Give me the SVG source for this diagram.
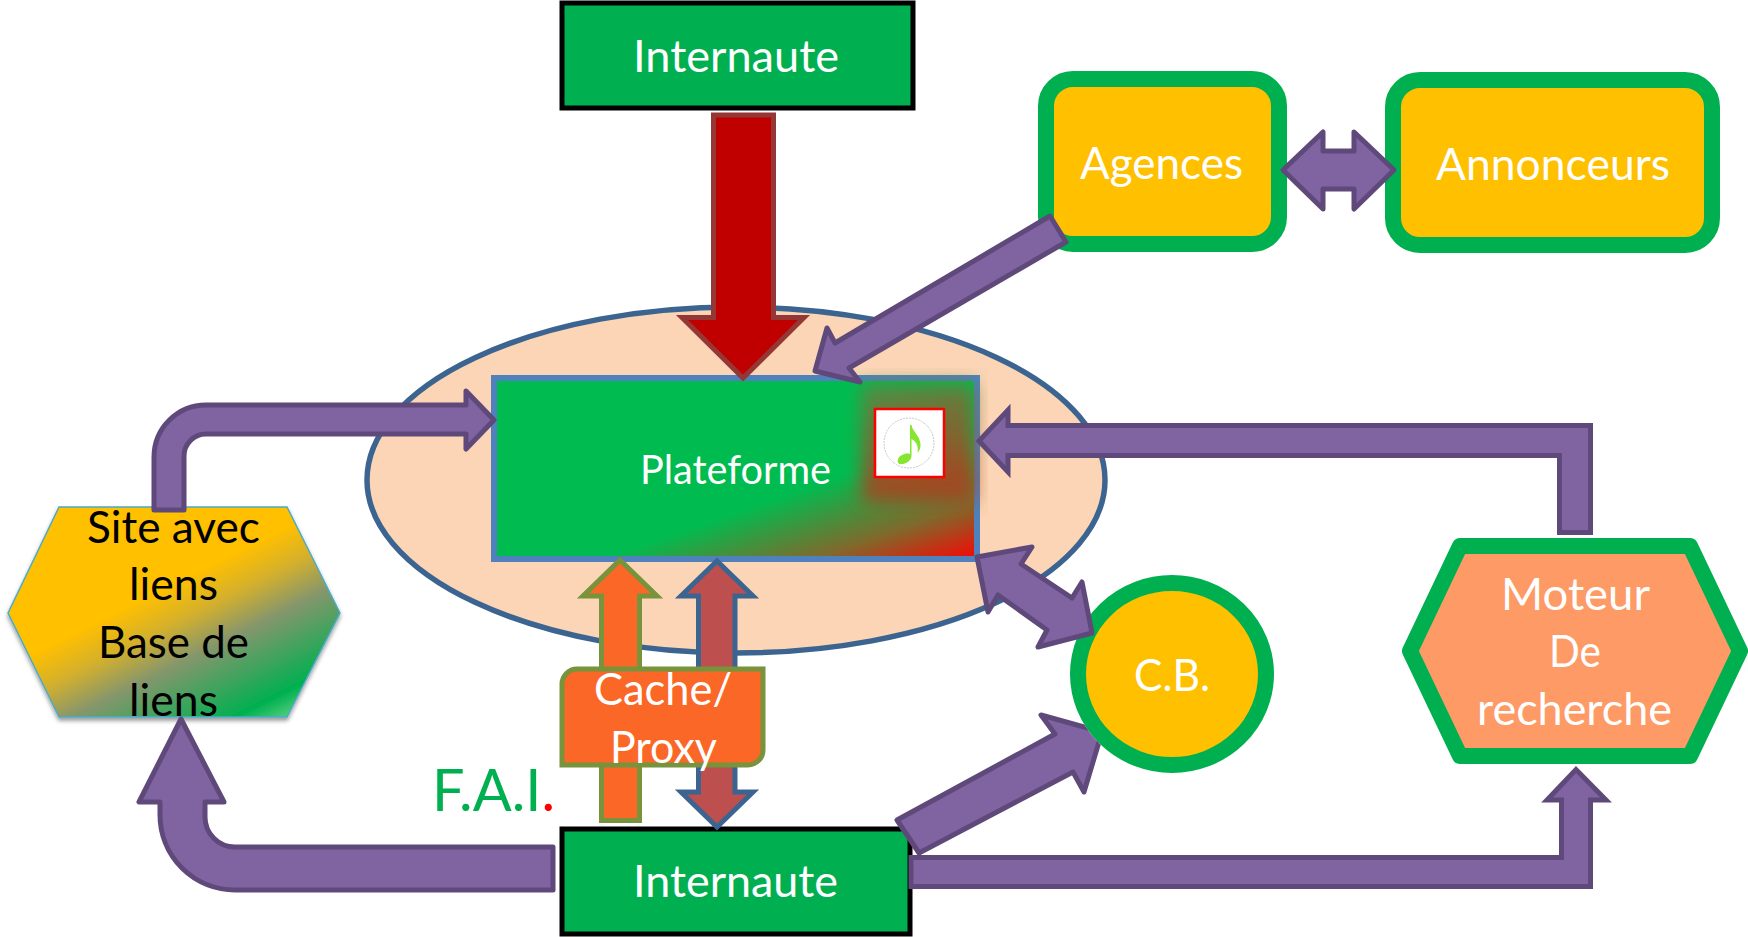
<svg xmlns="http://www.w3.org/2000/svg" width="1748" height="937" viewBox="0 0 1748 937">
<style>
text{font-family:Lato,"Liberation Sans",sans-serif;font-size:44px;fill:#fff}
.dark{fill:#000}
.conn{fill:#8064a2;stroke:#5f497a;stroke-width:5;stroke-linejoin:round}
.sq{stroke-linejoin:miter}
.ring{fill:#ffc000;stroke:#00b050;stroke-width:16}
.inet{fill:#00b050;stroke:#000;stroke-width:5}
</style>
<defs>
<linearGradient id="platGrad" gradientUnits="userSpaceOnUse" x1="968" y1="432" x2="1009" y2="551"><stop offset="0" stop-color="#00bc50"/><stop offset="0.55" stop-color="#7f6a2c"/><stop offset="1" stop-color="#ff0000"/></linearGradient>
<linearGradient id="glowGrad" gradientUnits="userSpaceOnUse" x1="900" y1="385" x2="925" y2="485"><stop offset="0" stop-color="#558a42"/><stop offset="1" stop-color="#a04a22"/></linearGradient>
<linearGradient id="siteGrad" gradientUnits="userSpaceOnUse" x1="190" y1="576" x2="268" y2="732"><stop offset="0" stop-color="#ffc000"/><stop offset="0.2" stop-color="#d4b02c"/><stop offset="0.42" stop-color="#85966c"/><stop offset="0.84" stop-color="#00b050"/><stop offset="1" stop-color="#63d386"/></linearGradient>
<filter id="soft" x="-30%" y="-30%" width="160%" height="160%"><feGaussianBlur stdDeviation="9"/></filter>
<filter id="shadow" x="-10%" y="-10%" width="120%" height="120%"><feDropShadow dx="0" dy="3" stdDeviation="2" flood-color="#000" flood-opacity="0.4"/></filter>
<clipPath id="outsideCB"><path clip-rule="evenodd" d="M0 0H1748V937H0Z M1070 674a102 99 0 1 0 204 0a102 99 0 1 0 -204 0Z"/></clipPath>
<clipPath id="platClip"><rect x="485" y="368" width="503" height="198"/></clipPath>
</defs>

<g id="zone-ellipse"><ellipse cx="736" cy="480" rx="369" ry="173" fill="#fbd5b5" stroke="#3c6491" stroke-width="5.500"/></g>

<g id="plateforme">
<rect x="494" y="378" width="483" height="181" fill="url(#platGrad)" stroke="#4f81bd" stroke-width="6"/>
<g clip-path="url(#platClip)"><rect x="862" y="384" width="112" height="118" fill="url(#glowGrad)" filter="url(#soft)"/></g>
<text x="640" y="484" style="font-size:41px" textLength="191" lengthAdjust="spacingAndGlyphs">Plateforme</text>
<rect x="875" y="409" width="69" height="68" fill="#fff" stroke="#f00" stroke-width="2.500"/>
<circle cx="909" cy="443" r="25" fill="#fff" stroke="#c8c8c8" stroke-width="1" stroke-dasharray="2 1"/>
<path d="M910 425h1.500c1 7 9 11 9 20c0 3-1 6-3 8c1-5 0-11-6-14v17c0 5-7 9-12 8c-4-2-1-9 5-10c2-1 4-1 5.500 0z" fill="#86e52e"/>
</g>

<g id="site-liens">
<polygon points="8,613 59,507 287,507 340,613 287,717 59,717" fill="url(#siteGrad)" stroke="#4bacc6" stroke-width="1.500" filter="url(#shadow)"/>
<text class="dark" x="87" y="543" textLength="173" lengthAdjust="spacingAndGlyphs">Site avec</text>
<text class="dark" x="129" y="600" textLength="89" lengthAdjust="spacingAndGlyphs">liens</text>
<text class="dark" x="98" y="658" textLength="151" lengthAdjust="spacingAndGlyphs">Base de</text>
<text class="dark" x="129" y="716" textLength="89" lengthAdjust="spacingAndGlyphs">liens</text>
</g>

<g id="internaute-haut">
<rect x="562" y="3" width="351" height="105" class="inet"/>
<text x="633" y="72" textLength="206" lengthAdjust="spacingAndGlyphs">Internaute</text>
</g>

<g id="internaute-bas">
<rect x="562" y="829" width="348" height="105" class="inet"/>
<text x="633" y="897" textLength="205" lengthAdjust="spacingAndGlyphs">Internaute</text>
</g>

<g id="agences">
<rect x="1046" y="79" width="233" height="165" rx="27" ry="27" class="ring"/>
<text x="1080" y="179" textLength="163" lengthAdjust="spacingAndGlyphs">Agences</text>
</g>

<g id="annonceurs">
<rect x="1393" y="80" width="319" height="165" rx="27" ry="27" class="ring"/>
<text x="1436" y="180" textLength="234" lengthAdjust="spacingAndGlyphs">Annonceurs</text>
</g>

<g id="moteur">
<polygon points="1410,651 1460,546 1690,546 1740,651 1690,756 1460,756" fill="#fe9a66" stroke="#00b050" stroke-width="16" stroke-linejoin="round"/>
<text x="1501" y="610" textLength="149" lengthAdjust="spacingAndGlyphs">Moteur</text>
<text x="1549" y="667" textLength="52" lengthAdjust="spacingAndGlyphs">De</text>
<text x="1477" y="725" textLength="195" lengthAdjust="spacingAndGlyphs">recherche</text>
</g>

<g id="cb">
<ellipse cx="1172" cy="674" rx="94" ry="91" class="ring"/>
<text x="1134" y="691" textLength="76" lengthAdjust="spacingAndGlyphs">C.B.</text>
</g>

<g id="fai">
<text x="432" y="811" style="font-size:58px;fill:#00b050" textLength="123" lengthAdjust="spacingAndGlyphs">F.A.I<tspan fill="#f00" style="fill:#f00">.</tspan></text>
</g>

<g id="connectors">
<polygon points="713.500,115 773.500,115 773.500,317.500 804,317.500 743,378 682,317.500 713.500,317.500" fill="#c00000" stroke="#953735" stroke-width="5" stroke-linejoin="miter"/>
<polygon class="conn" points="1050,216 1066,242 849,368 860,382 815,371 827,328 835,343"/>
<polygon class="conn" points="1283,170 1323,132 1323,151 1354,151 1354,132 1394,170 1354,209 1354,189 1323,189 1323,209"/>
<path class="conn" d="M154 510V457A52 52 0 0 1 206 405H466V391L494 420L466 449V434H206A22 22 0 0 0 184 456V510Z"/>
<path class="conn" d="M553 847H235A30 30 0 0 1 205 817V802H224L181 719L139 802H160V815A75 75 0 0 0 235 890H553Z"/>
<path class="conn sq" d="M1590.500 532.500V425.500H1008V410L979 441L1008 472V455.500H1559.500V532.500Z"/>
<path class="conn sq" d="M911 857.500H1561.500V800H1547L1576 769.500L1606 800H1590.500V886.500H911Z"/>
<polygon class="conn" points="977,557 1032,547 1021,564 1072,598 1082,582 1092,633 1038,647 1047,630 998,595 988,612"/>
<polygon class="conn" clip-path="url(#outsideCB)" points="897,820 1055,734 1041,715 1102,732 1084,792 1073,772 919,853"/>
<polygon points="620,560 657,596 639.500,596 639.500,820.500 601.500,820.500 601.500,596 583,596" fill="#fa6726" stroke="#77933c" stroke-width="5" stroke-linejoin="miter"/>
<polygon points="717,561 753,596 735,596 735,792 753,792 717,827 681,792 698.500,792 698.500,596 681,596" fill="#bd4f4e" stroke="#3c6491" stroke-width="5" stroke-linejoin="miter"/>
</g>

<g id="cache-proxy">
<path d="M577 669H763V750A15 15 0 0 1 748 765H562V684A15 15 0 0 1 577 669Z" fill="#fa6726" stroke="#77933c" stroke-width="5"/>
<text x="594" y="705" textLength="138" lengthAdjust="spacingAndGlyphs">Cache/</text>
<text x="610" y="763" textLength="107" lengthAdjust="spacingAndGlyphs">Proxy</text>
</g>
</svg>
